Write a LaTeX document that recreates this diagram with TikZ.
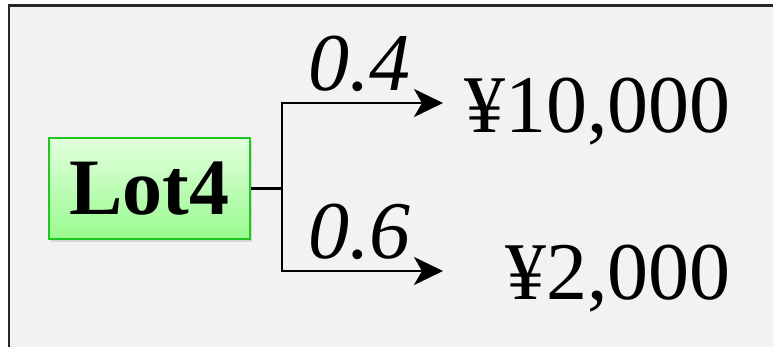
\documentclass[tikz,border=0pt]{standalone}
\usepackage{fontspec}
\setmainfont{Liberation Serif}
\usetikzlibrary{arrows.meta,shadows}
\definecolor{bggray}{RGB}{242,242,242}
\definecolor{boxgreen}{RGB}{30,200,30}
\definecolor{boxtop}{RGB}{226,255,221}
\definecolor{boxbottom}{RGB}{152,250,142}
\begin{document}
\begin{tikzpicture}[x=0.5pt, y=-0.5pt,
        stem/.style={line width=1.3pt},
        branch/.style={stem, -{Stealth[length=14.5pt, width=14pt, inset=4pt]}},
        prob/.style={font=\fontsize{41}{41}\itshape, anchor=base, inner sep=0pt, yshift=6pt},
        payoff/.style={font=\fontsize{41}{41}\selectfont, anchor=base east, inner sep=0pt}]
        \useasboundingbox (0,0) rectangle (773,347);
        % frame
        \fill[bggray] (9,5.5) rectangle (773,347);
        \draw[line width=1.4pt, black!85] (773,5.5) -- (9,5.5) -- (9,347);

        \node[draw=boxgreen, line width=1pt, top color=boxtop, bottom color=boxbottom,
            drop shadow={shadow xshift=1pt, shadow yshift=-1.5pt, opacity=0.25},
            minimum width=100.5pt, minimum height=50.5pt, inner sep=0pt,
            font=\fontsize{40}{40}\bfseries] (lot) at (149.5,188.5) {Lot4};
        \coordinate (split) at (282,188.5);
        \coordinate (hi) at (443,103);
        \coordinate (lo) at (443,271);
        \node[payoff] (win) at (731,133) {¥10,000};
        \node[payoff] (lose) at (731,300) {¥2,000};

        \draw[stem] (lot.east) -- (split);
        \draw[branch] (split) |- node[pos=0.74, prob] {0.4} (hi);
        \draw[branch] (split) |- node[pos=0.74, prob] {0.6} (lo);
    \end{tikzpicture}
\end{document}
